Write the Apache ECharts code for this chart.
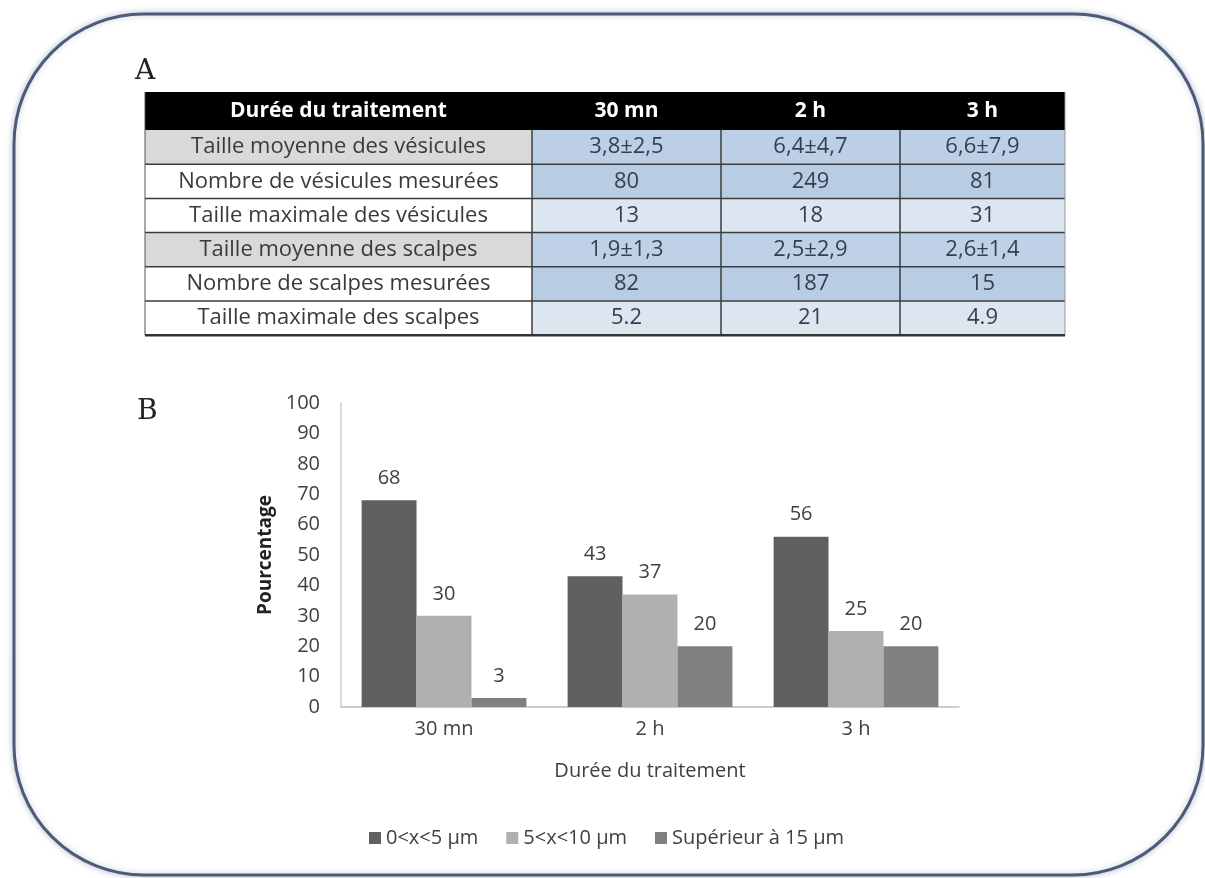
<!DOCTYPE html>
<html>
<head>
<meta charset="utf-8">
<title>Durée du traitement</title>
<script src="https://cdn.jsdelivr.net/npm/echarts@6/dist/echarts.min.js"></script>
<style>
html,body{margin:0;padding:0;background:#fff;}
#main{width:1205px;height:878px;}
</style>
</head>
<body>
<div id="main"></div>
<script>
// Tableau A
var tableHead = ['Durée du traitement', '30 mn', '2 h', '3 h'];
var rowLabels = [
    'Taille moyenne des vésicules',
    'Nombre de vésicules mesurées',
    'Taille maximale des vésicules',
    'Taille moyenne des scalpes',
    'Nombre de scalpes mesurées',
    'Taille maximale des scalpes'
];
var col30mn = ['3,8±2,5', '80', '13', '1,9±1,3', '82', '5.2'];
var col2h = ['6,4±4,7', '249', '18', '2,5±2,9', '187', '21'];
var col3h = ['6,6±7,9', '81', '31', '2,6±1,4', '15', '4.9'];

// Graphique B
var categories = ['30 mn', '2 h', '3 h'];
var seriesNames = ['0<x<5 µm', '5<x<10 µm', 'Supérieur à 15 µm'];
var small = [68, 43, 56];
var medium = [30, 37, 25];
var large = [3, 20, 20];

var FONT = '"Open Sans", Lato, sans-serif';

// construction du tableau
var buildTable = function(){
    var colX = [145, 532, 721, 900, 1065],
        top = 92, headH = 38, rowH = 34.2,
        labelFill = ['#d9d9d9', '#fff', '#fff', '#d9d9d9', '#fff', '#fff'],
        cellFill = ['#bccfe6', '#b8cce4', '#dce6f1', '#bfd1e7', '#b8cce4', '#dce6f1'],
        cols = [col30mn, col2h, col3h],
        els = [], i, j, y;

    els.push({type: 'rect', shape: {x: colX[0], y: top, width: colX[4] - colX[0], height: headH}, style: {fill: '#000'}});
    for (j = 0; j < tableHead.length; j++) {
        els.push({type: 'text', x: (colX[j] + colX[j + 1]) / 2, y: top + headH / 2,
            style: {text: tableHead[j], fill: '#fff', font: 'bold 21px ' + FONT, align: 'center', verticalAlign: 'middle'}});
    }
    for (i = 0; i < rowLabels.length; i++) {
        y = top + headH + i * rowH;
        els.push({type: 'rect', shape: {x: colX[0], y: y, width: colX[1] - colX[0], height: rowH}, style: {fill: labelFill[i]}});
        els.push({type: 'rect', shape: {x: colX[1], y: y, width: colX[4] - colX[1], height: rowH}, style: {fill: cellFill[i]}});
        els.push({type: 'text', x: (colX[0] + colX[1]) / 2, y: y + rowH / 2,
            style: {text: rowLabels[i], fill: '#3a3a3a', font: '22px ' + FONT, align: 'center', verticalAlign: 'middle'}});
        for (j = 0; j < cols.length; j++) {
            els.push({type: 'text', x: (colX[j + 1] + colX[j + 2]) / 2, y: y + rowH / 2,
                style: {text: cols[j][i], fill: '#36404c', font: '22px ' + FONT, align: 'center', verticalAlign: 'middle'}});
        }
        if (i > 0) {
            els.push({type: 'line', shape: {x1: colX[0], y1: y, x2: colX[4], y2: y}, style: {stroke: '#3c3c3c', lineWidth: 1.5}});
        }
    }
    var bottom = top + headH + rowLabels.length * rowH;
    for (j = 1; j < 4; j++) {
        els.push({type: 'line', shape: {x1: colX[j], y1: top + headH, x2: colX[j], y2: bottom}, style: {stroke: '#3c3c3c', lineWidth: 1.5}});
    }
    els.push({type: 'line', shape: {x1: colX[0], y1: top, x2: colX[0], y2: bottom}, style: {stroke: '#555', lineWidth: 1}});
    els.push({type: 'line', shape: {x1: colX[4], y1: top, x2: colX[4], y2: bottom}, style: {stroke: '#999', lineWidth: 1}});
    els.push({type: 'line', shape: {x1: colX[0], y1: bottom, x2: colX[4], y2: bottom}, style: {stroke: '#333', lineWidth: 2.5}});
    return els;
};

var chart = echarts.init(document.getElementById('main'), null, {renderer: 'canvas'});

var graphics = [
    {type: 'rect', shape: {x: 14, y: 14, width: 1189, height: 861, r: 130},
        style: {fill: '#fff', stroke: '#4b5b78', lineWidth: 3, shadowBlur: 6, shadowColor: 'rgba(80,100,140,0.35)'}, z: -10},
    {type: 'text', x: 135, y: 72, style: {text: 'A', font: '28px "DejaVu Serif", serif', fill: '#222', verticalAlign: 'middle'}},
    {type: 'text', x: 137, y: 412, style: {text: 'B', font: '28px "DejaVu Serif", serif', fill: '#222', verticalAlign: 'middle'}}
].concat(buildTable());

var barColors = ['#606060', '#b0b0b0', '#808080'];
var seriesData = [small, medium, large];

var option = {
    backgroundColor: '#fff',
    textStyle: {fontFamily: FONT},
    graphic: graphics,
    legend: {
        left: 364,
        top: 823,
        icon: 'rect',
        itemWidth: 12,
        itemHeight: 12,
        itemGap: 28,
        textStyle: {fontSize: 20, color: '#404040', fontFamily: FONT},
        data: seriesNames
    },
    grid: {left: 341, top: 403, width: 618, height: 304},
    xAxis: {
        type: 'category',
        data: categories,
        name: 'Durée du traitement',
        nameLocation: 'middle',
        nameGap: 54,
        nameTextStyle: {fontSize: 20, color: '#404040'},
        axisLine: {lineStyle: {color: '#bdbdbd', width: 1.5}},
        axisTick: {show: false},
        axisLabel: {fontSize: 20, color: '#404040', margin: 12}
    },
    yAxis: {
        type: 'value',
        min: 0,
        max: 100,
        interval: 10,
        name: 'Pourcentage',
        nameLocation: 'middle',
        nameGap: 64,
        nameTextStyle: {fontSize: 19, fontWeight: 'bold', color: '#222'},
        axisLine: {show: true, lineStyle: {color: '#cfcfcf', width: 1.5}},
        axisTick: {show: false},
        splitLine: {show: false},
        axisLabel: {fontSize: 20, color: '#404040', margin: 21}
    },
    series: seriesNames.map(function(name, k){
        return {
            name: name,
            type: 'bar',
            data: seriesData[k],
            barGap: '0%',
            barCategoryGap: '20%',
            itemStyle: {color: barColors[k]},
            label: {show: true, position: 'top', distance: 12, fontSize: 20, color: '#404040'}
        };
    })
};

chart.setOption(option);
</script>
</body>
</html>
